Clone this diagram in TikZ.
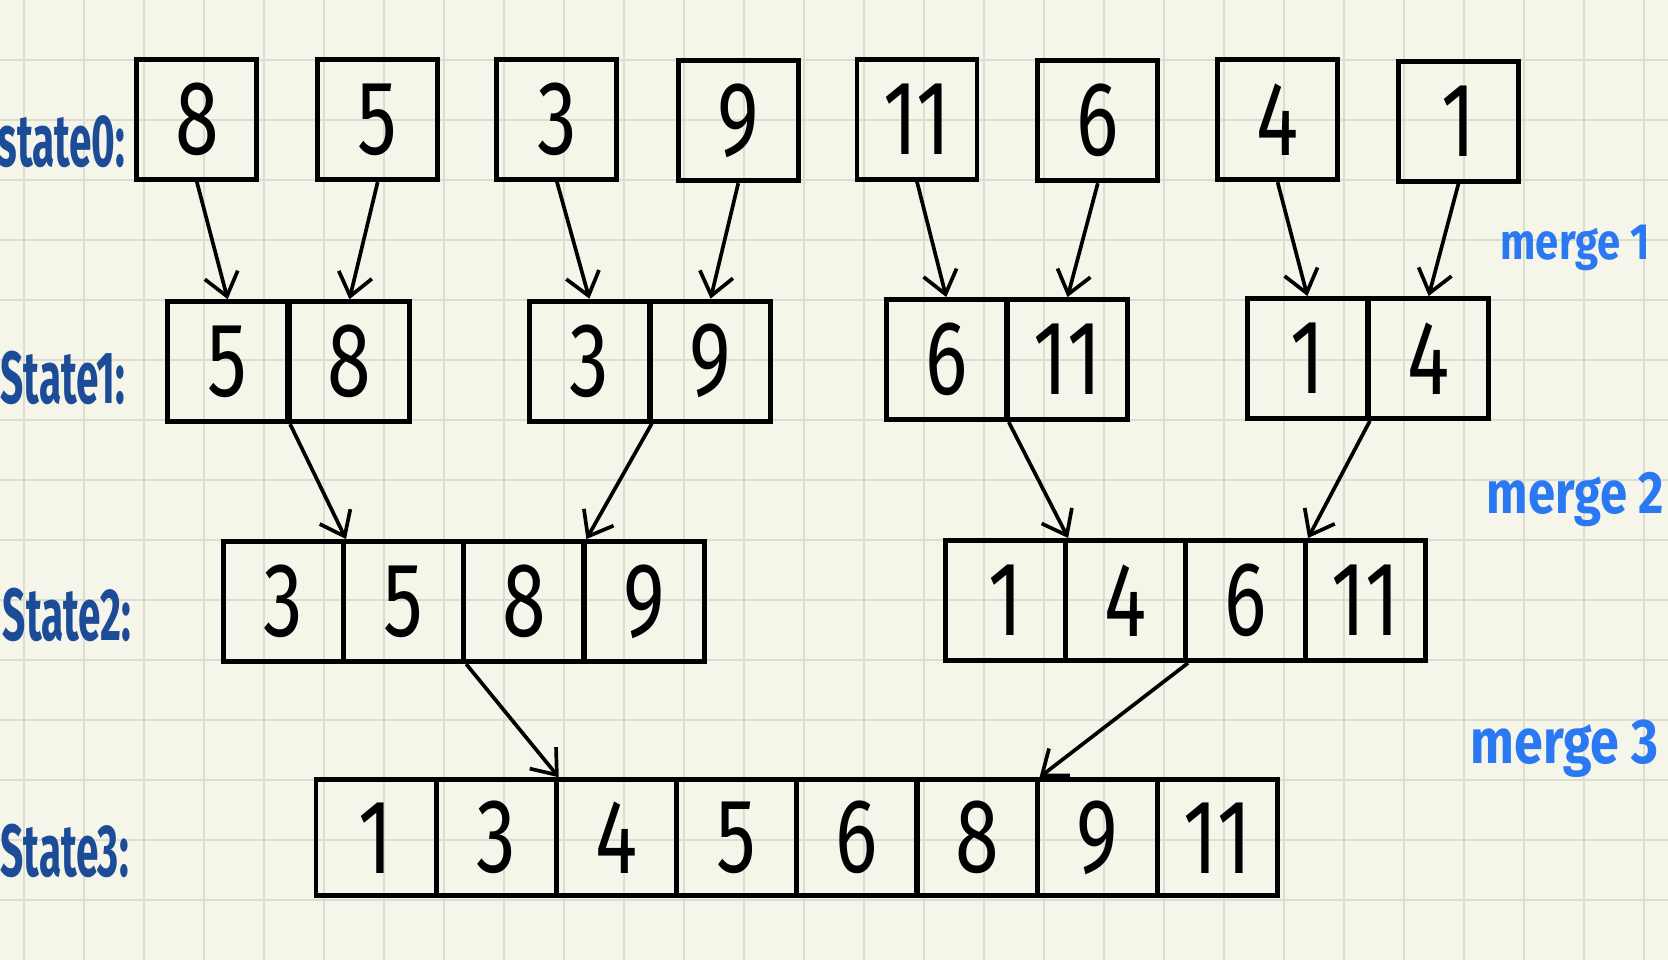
\documentclass[tikz,border=0pt]{standalone}
\usepackage{fontspec}
\usetikzlibrary{arrows.meta}
\newfontfamily\digitfont[FakeStretch=0.75]{Fira Sans}
\newfontfamily\statefont[FakeStretch=0.55]{Fira Sans}
\newfontfamily\mergefont[FakeStretch=0.82]{Fira Sans}
\definecolor{paper}{HTML}{F5F5EA}
\definecolor{gridc}{HTML}{DCDCD0}
\definecolor{statec}{HTML}{1C4C98}
\definecolor{mergec}{HTML}{2B79F2}
\begin{document}
\begin{tikzpicture}[x=0.010638cm,y=-0.010638cm,
 cell/.style={draw=black,line width=1.4pt,minimum width=1.2cm,minimum height=1.2cm,inner sep=0pt,font=\digitfont\fontsize{30}{30}\selectfont},
 cellb/.style={cell,minimum height=1.16cm},
 flow/.style={-{Straight Barb[length=2.2mm,width=3.4mm]},line width=1.05pt},
 statelbl/.style={anchor=west,text=statec,font=\statefont\bfseries\fontsize{21}{21}\selectfont,inner sep=0pt},
 mergelbl/.style={anchor=west,text=mergec,inner sep=0pt},
 gridline/.style={draw=gridc,line width=0.6pt}]
\fill[paper] (0,0) rectangle (1568,902);
\useasboundingbox (0,0) rectangle (1568,902);
\foreach \i in {0,...,27} \draw[gridline] ({22.56+56.4*\i},0) -- ++(0,902);
\foreach \j in {1,...,15} \draw[gridline] (0,{56.4*\j}) -- ++(1568,0);

% state 0
\node[cell] (s0a) at (185,112) {8};
\node[cell] (s0b) at (355,112.5) {5};
\node[cell] (s0c) at (523.5,112) {3};
\node[cell] (s0d) at (694,113.5) {9};
\node[cell] (s0e) at (862,112) {11};
\node[cell] (s0f) at (1032,113.5) {6};
\node[cell] (s0g) at (1201,112.5) {4};
\node[cell] (s0h) at (1371,114) {1};

% state 1
\node[cell] (s1a1) at (214,340) {5};
\node[cell] (s1a2) at (328.5,340) {8};
\node[cell] (s1b1) at (554,339.5) {3};
\node[cell] (s1b2) at (668,339.5) {9};
\node[cell] (s1c1) at (889.5,338) {6};
\node[cell] (s1c2) at (1003.5,338) {11};
\node[cell] (s1d1) at (1229,337) {1};
\node[cell] (s1d2) at (1343,337) {4};

% state 2
\node[cell] (s2a1) at (266.5,565.5) {3};
\node[cell] (s2a2) at (379.5,565.5) {5};
\node[cell] (s2a3) at (492.5,565.5) {8};
\node[cell] (s2a4) at (605.5,565.5) {9};
\node[cell] (s2b1) at (945.4,564.5) {1};
\node[cell] (s2b2) at (1058.1,564.5) {4};
\node[cell] (s2b3) at (1170.9,564.5) {6};
\node[cell] (s2b4) at (1283.6,564.5) {11};

% state 3
\node[cellb] (s3c1) at (353.5,787.5) {1};
\node[cellb] (s3c2) at (466.5,787.5) {3};
\node[cellb] (s3c3) at (579.5,787.5) {4};
\node[cellb] (s3c4) at (692.5,787.5) {5};
\node[cellb] (s3c5) at (805.5,787.5) {6};
\node[cellb] (s3c6) at (918.5,787.5) {8};
\node[cellb] (s3c7) at (1031.5,787.5) {9};
\node[cellb] (s3c8) at (1144.5,787.5) {11};

% arrows state0 -> state1
\draw[flow] (s0a.south) -- (s1a1.north);
\draw[flow] (s0b.south) -- (s1a2.north);
\draw[flow] (s0c.south) -- (s1b1.north);
\draw[flow] (s0d.south) -- (s1b2.north);
\draw[flow] (s0e.south) -- (s1c1.north);
\draw[flow] (s0f.south) -- (s1c2.north);
\draw[flow] (s0g.south) -- (s1d1.north);
\draw[flow] (s0h.south) -- (s1d2.north);

% arrows state1 -> state2
\draw[flow] (s1a1.south east) -- (s2a1.north east);
\draw[flow] (s1b1.south east) -- (s2a3.north east);
\draw[flow] (s1c1.south east) -- (s2b1.north east);
\draw[flow] (s1d1.south east) -- (s2b3.north east);

% arrows state2 -> state3
\draw[flow] (s2a2.south east) -- (s3c2.north east);
\draw[flow] (s2b2.south east) -- (s3c6.north east);

% state labels
\node[statelbl] (l0) at (-3,133) {state0:};
\node[statelbl] (l1) at (0,355) {State1:};
\node[statelbl] (l2) at (2,578) {State2:};
\node[statelbl] (l3) at (0,800) {State3:};

% merge labels
\node[mergelbl,font=\mergefont\bfseries\fontsize{14.5}{14.5}\selectfont] (m1) at (1410,233) {merge 1};
\node[mergelbl,font=\mergefont\bfseries\fontsize{17}{17}\selectfont] (m2) at (1397,470) {merge 2};
\node[mergelbl,font=\mergefont\bfseries\fontsize{18}{18}\selectfont] (m3) at (1382,704) {merge 3};
\end{tikzpicture}
\end{document}
